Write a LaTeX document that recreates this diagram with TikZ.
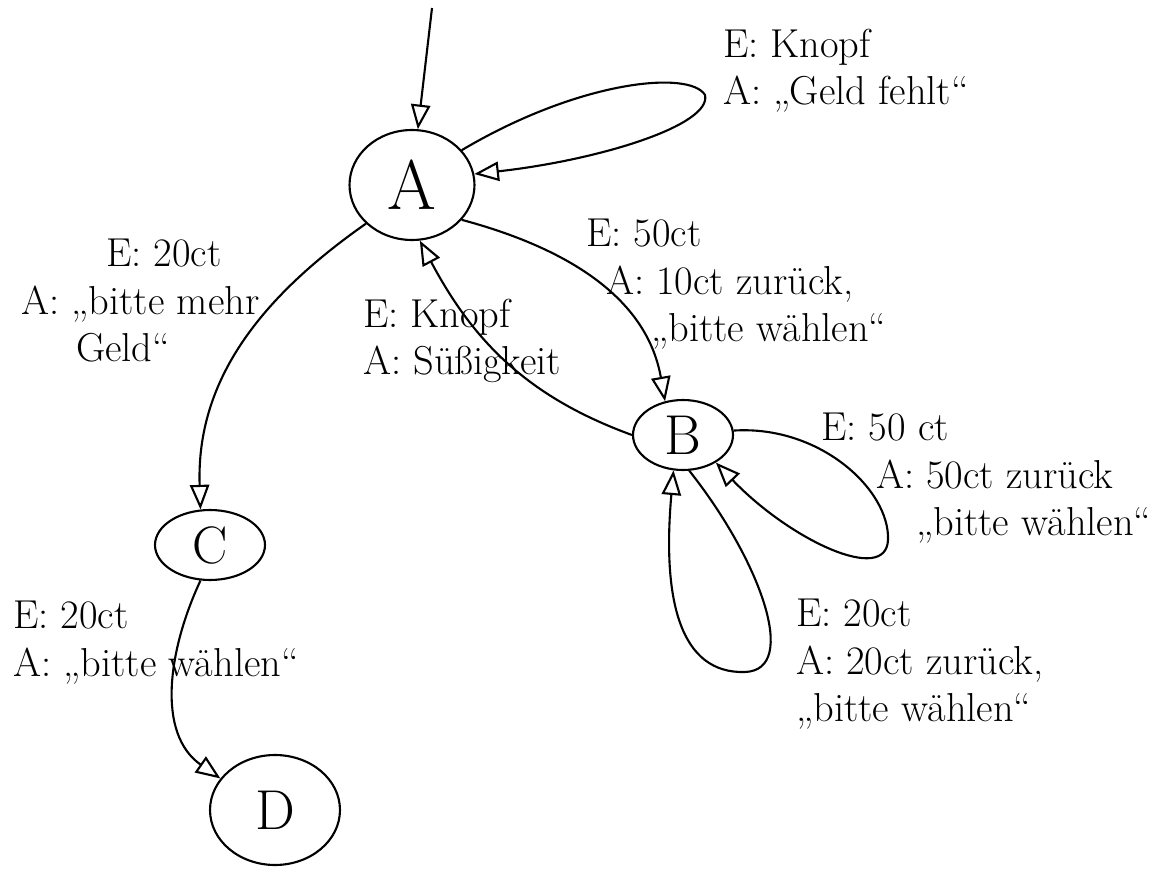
\documentclass[tikz,border=0pt]{standalone}
\usepackage{fontspec}
\usetikzlibrary{shapes.geometric,arrows.meta}
\begin{document}
\begin{tikzpicture}[x=0.02cm,y=-0.02cm, line width=1.2pt,
  zustand/.style={ellipse, draw, inner sep=0pt},
  beschr/.style={anchor=north west, align=left, inner sep=0pt, font=\fontsize{23}{27}\selectfont},
  kante/.style={-{Triangle[open,length=14pt,width=11pt]}}]
\useasboundingbox (0,0) rectangle (1163,871);
\node[zustand, minimum width=2.5cm, minimum height=2.2cm, font=\fontsize{40}{40}\selectfont] (zA) at (412,185){A};
\node[zustand, minimum width=2.0cm, minimum height=1.4cm, font=\fontsize{32}{32}\selectfont] (zB) at (683,435){B};
\node[zustand, minimum width=2.2cm, minimum height=1.4cm, font=\fontsize{30}{30}\selectfont] (zC) at (210,545){C};
\node[zustand, minimum width=2.6cm, minimum height=2.2cm, font=\fontsize{32}{32}\selectfont] (zD) at (275,810){D};
\coordinate (start) at (432,8);
\draw[kante] (start) -- (zA.84);
\draw[kante] (zA.35) .. controls (580,80) and (690,70) .. (705,95) .. controls (712,125) and (600,160) .. (zA.10);
\node[beschr] (lA) at (722,28){E: Knopf\\A: „Geld fehlt“};
\draw[kante] (zA.-35) to[out=-15,in=100] (zB.118);
\node[beschr] (lAB) at (585,218){E: 50ct\\\hspace{0.4cm}A: 10ct zurück,\\\hspace{1.3cm}„bitte wählen“};
\draw[kante] (zB.west) to[out=160,in=-62] (zA.-82);
\node[beschr] (lBA) at (362,298){E: Knopf\\A: Süßigkeit};
\draw[kante] (zB.5) .. controls (820,425) and (890,490) .. (888,540) .. controls (886,585) and (790,540) .. (zB.-40);
\node[beschr] (lBB1) at (820,412){E: 50 ct\\\hspace{1.1cm}A: 50ct zurück\\\hspace{1.9cm}„bitte wählen“};
\draw[kante] (zB.-80) .. controls (760,560) and (800,670) .. (745,672) .. controls (680,674) and (662,600) .. (zB.-105);
\node[beschr] (lBB2) at (795,598){E: 20ct\\A: 20ct zurück,\\„bitte wählen“};
\draw[kante] (zA.-140) to[out=-145,in=92] (zC.105);
\node[beschr] (lAC) at (20,238){\hspace{1.7cm}E: 20ct\\A: „bitte mehr\\\hspace{1.1cm}Geld“};
\draw[kante] (zC.-105) to[out=-115,in=145] (zD.150);
\node[beschr] (lCD) at (12,600){E: 20ct\\A: „bitte wählen“};
\end{tikzpicture}
\end{document}
